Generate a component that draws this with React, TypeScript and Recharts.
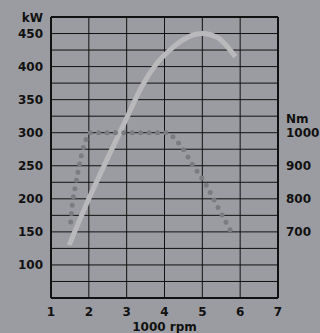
import React from 'react';
import {
  LineChart,
  Line,
  XAxis,
  YAxis,
  CartesianGrid,
  ReferenceLine,
} from 'recharts';

// engine curves
const rpmTicks = [1, 2, 3, 4, 5, 6, 7];
const kwTicks = [50, 75, 100, 125, 150, 175, 200, 225, 250, 275, 300, 325, 350, 375, 400, 425, 450, 475];
const kwLabels = [100, 150, 200, 250, 300, 350, 400, 450];
const nmTicks = [700, 800, 900, 1000];

const powerRpm = [1.48, 2, 2.5, 3, 3.4, 3.8, 4.2, 4.6, 5, 5.4, 5.87];
const powerKw = [130, 200, 262, 322, 370, 405, 428, 444, 450, 444, 415];

const torqueRpm = [1.52, 1.56, 1.63, 1.71, 1.8, 1.92, 2.03, 2.5, 3, 3.5, 4.03, 4.39, 4.75, 5.1, 5.43, 5.75];
const torqueNm = [730, 780, 830, 880, 930, 978, 1000, 1000, 1000, 1000, 1000, 966, 902, 842, 770, 703];

const powerData = powerRpm.map((rpm, i) => ({ rpm, kw: powerKw[i] }));
const torqueData = torqueRpm.map((rpm, i) => ({ rpm, nm: torqueNm[i] }));

const BG = '#9b9ca1';
const INK = '#111111';
const font = { fontFamily: 'DejaVu Sans', fontWeight: 'bold', fontSize: 12, fill: INK };

export default function App() {
  return (
    <div
      style={{
        position: 'absolute',
        left: 0,
        top: 0,
        width: 320,
        height: 333,
        backgroundColor: BG,
      }}
    >
      <LineChart
        width={320}
        height={333}
        margin={{ top: 17, right: 0, bottom: 5, left: 0 }}
      >
        <CartesianGrid yAxisId="kw" stroke={INK} strokeWidth={1} />
        <XAxis
          type="number"
          dataKey="rpm"
          domain={[1, 7]}
          ticks={rpmTicks}
          height={30}
          tickLine={false}
          tickMargin={3}
          axisLine={{ stroke: INK, strokeWidth: 2 }}
          tick={font}
          label={{
            content: ({ viewBox }: any) => (
              <text
                x={viewBox.x + viewBox.width / 2}
                y={viewBox.y + 33}
                textAnchor="middle"
                {...font}
              >
                1000 rpm
              </text>
            ),
          }}
        />
        <YAxis
          yAxisId="kw"
          domain={[50, 475]}
          ticks={kwTicks}
          width={51}
          tickLine={false}
          axisLine={{ stroke: INK, strokeWidth: 2 }}
          tick={font}
          tickFormatter={(v) => (kwLabels.includes(v) ? String(v) : '')}
          label={{
            content: ({ viewBox }: any) => (
              <text
                x={viewBox.x + viewBox.width - 8}
                y={viewBox.y + 5}
                textAnchor="end"
                {...font}
              >
                kW
              </text>
            ),
          }}
        />
        <YAxis
          yAxisId="nm"
          orientation="right"
          domain={[500, 1350]}
          ticks={nmTicks}
          width={42}
          tickLine={false}
          axisLine={{ stroke: INK, strokeWidth: 2 }}
          tick={{ ...font, textAnchor: 'start' }}
          label={{
            content: ({ viewBox }: any) => (
              <text x={viewBox.x + 8} y={viewBox.y + 106} textAnchor="start" {...font}>
                Nm
              </text>
            ),
          }}
        />
        <ReferenceLine yAxisId="kw" y={475} stroke={INK} strokeWidth={2} />
        <Line
          yAxisId="kw"
          data={powerData}
          dataKey="kw"
          type="monotone"
          stroke="#b9b9bb"
          strokeWidth={5}
          dot={false}
          isAnimationActive={false}
        />
        <Line
          yAxisId="nm"
          data={torqueData}
          dataKey="nm"
          type="monotone"
          stroke="#7b7c7f"
          strokeWidth={5}
          strokeLinecap="round"
          strokeDasharray="0 8.4"
          dot={false}
          isAnimationActive={false}
        />
      </LineChart>
    </div>
  );
}
